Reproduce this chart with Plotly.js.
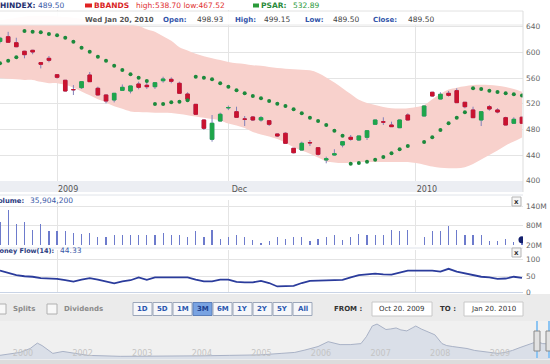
<!DOCTYPE html>
<html><head><meta charset="utf-8">
<script src="https://cdn.plot.ly/plotly-3.0.1.min.js"></script>
<style>html,body{margin:0;padding:0;background:#fff;overflow:hidden}#c{width:550px;height:364px}</style>
</head><body><div id="c"></div>
<script>
// ---------- data ----------
const dates = ['2009-10-22','2009-10-23','2009-10-26','2009-10-27','2009-10-28','2009-10-29','2009-10-30',
'2009-11-02','2009-11-03','2009-11-04','2009-11-05','2009-11-06','2009-11-09','2009-11-10','2009-11-11','2009-11-12','2009-11-13',
'2009-11-16','2009-11-17','2009-11-18','2009-11-19','2009-11-20','2009-11-23','2009-11-24','2009-11-25','2009-11-26','2009-11-27','2009-11-30',
'2009-12-01','2009-12-02','2009-12-03','2009-12-04','2009-12-07','2009-12-08','2009-12-09','2009-12-10','2009-12-11',
'2009-12-14','2009-12-15','2009-12-16','2009-12-17','2009-12-18','2009-12-21','2009-12-22','2009-12-23','2009-12-24','2009-12-25',
'2009-12-28','2009-12-29','2009-12-30','2009-12-31',
'2010-01-04','2010-01-05','2010-01-06','2010-01-07','2010-01-08','2010-01-11','2010-01-12','2010-01-13','2010-01-14','2010-01-15',
'2010-01-18','2010-01-19','2010-01-20'];
const openP = [617,624.4,615,601.7,603.2,584,590.7,565.2,556.5,542,545,564.7,544,533.6,525.8,540.8,539.8,550.7,548.7,546.5,555.8,558,551.8,535.1,519,494.6,464.5,493,513.5,507.5,496.2,499.3,494.6,493.5,472.8,473.9,450.5,447.8,459.5,451.4,432.3,440,455.6,467.6,463.4,467.6,487.9,491.8,486.8,482.6,502.4,500.8,537.8,527.3,536.2,540.3,522.2,510.2,494.6,515.3,510.2,498.2,489.5,498.93];
const highP = [624,632,622.8,602.5,604,584.5,594.3,566,557,549,555,569.4,546.5,534,536.5,550,547.8,554.3,554.3,553,562,561,554.3,537.8,519.5,495,502.4,506,517,515.3,500.8,500.8,500.8,494,473.5,475.4,451,460.8,463.4,452,437.4,449,461,471.2,470,478,494.8,498.8,492,495,505,516.6,538.5,537.8,539.8,544,522.5,515.3,507.8,518,512.8,499.7,498.8,499.15];
const lowP = [614,615,608,590.7,597,575,584.5,559,539,533.5,543,554,533,520.6,522,540,536,542.4,543,543,552.7,551.8,536,526.5,503,479,460.8,492.5,510,498.5,485.2,493,492,485.2,468,458,442.6,447.5,454,439,427.1,439,452,462.3,462,463.4,487.5,486.8,484,482,494.3,500.5,531,527,531,521.3,512.8,498,485.2,509,505,486.5,489.2,489.5];
const closeP = [622,615.7,608.8,596.4,600.6,581.4,587.6,561.1,539.8,541.8,554.3,554.3,533.6,524.2,536.2,545.5,547.6,545.5,546.5,552.7,558.5,554.9,536.2,526.8,503.5,481.7,489.5,503.5,514,498.8,495.8,494.6,498.2,487.9,469.7,458.3,443.6,458.3,459,441.1,434.3,442,460.8,464.5,469.7,477.9,494.6,491.3,484.2,494.6,494.6,516.4,532,534.6,533,521.6,515.3,498.2,507.5,511.7,507,486.8,495.7,489.5];
const psar = [583,587,592.3,633.3,632.2,631.3,628.6,626.6,622.9,616.6,607.3,601,593.2,587,579.2,572.5,565.8,560.5,555.4,519.5,519.5,522.2,523.1,525.3,562,560.5,558,551.8,546.5,540.9,536.2,532,528.4,524.2,520,516.4,511.3,505,498.2,493,486.8,477.9,470.1,426.5,427.6,429.6,432.7,436.9,442.7,448.9,454.1,460.3,467.6,479,489.4,498.2,506.6,544,542.9,540.3,538.2,536.2,534.6,532.89];
const bbUpper = [650,652,654,656,657,657,657,656,655,654,652,650,649,647,646,645,643,641,636,632,625,618,608,603,598,594,591,588,585,583,582,580,579,577,575.5,574.5,573.5,573,572,568,561,553,544,535,526,521,518,515,513,512.5,513,518,527,535,542,545,547,549,549.5,549,548,546,543,538.7];
const bbLower = [560,559,558,557,557,554,552,552,549.5,545,539,533,527,522,516,512,508,507,506.5,506,506,505.5,504,502,500,498,496,494,489,486,482,476,472,469,465,459,452,447,442,436,430,428.5,427.5,428,429,429,429,429,429,429,429,425,422,420,419.5,419.5,421,426,433,440,447,455,461,467.5];
const volumeM = [92,127.6,83.4,89.8,67.2,83.4,62.8,62.8,61.8,57.4,54.2,57.4,45.6,45.6,51,51,51,51,51,51,57.4,51,51,45.6,62.8,45.6,65,38,45.6,51,45.6,34.8,27.2,32.6,43.4,38,43.4,43.4,32.6,38,45.6,51,34.8,45.6,54.2,51,51,51,67.2,61.8,65,43.4,62.8,62.8,79,65,51,51,51,32.6,32.6,38,29.4,35.9];
const moneyFlow = [67,59.6,53,49.5,48,43.7,42.6,41.5,37.3,33,39.4,43.7,39.4,33,27.7,34,37.3,45.8,38.4,45.8,45.8,46.9,48,45.8,39.4,34.1,34.1,39.4,39.4,32,30.9,30.9,35.2,28.8,18.2,19.2,20.3,28.8,35.2,36.2,37.3,38.4,38.4,45.8,53.3,55.4,57.5,55.4,54.3,60.7,67,67,67,63.9,72.4,63.9,58.6,52.2,48,45.8,41.5,42.6,48,44.33];
const xTickDates = ['2009-11-02','2009-12-01','2010-01-01'];
const xTickLabels = ['2009','Dec','2010'];
const priceTicks = [400,440,480,520,560,600,640];
const volTicks = [20,80,140];
const volTickLabels = ['20M','80M','140M'];
const mfTicks = [0,50,100];
// navigator (long-term overview)
const navYears = [2000.61,2000.95,2001.12,2001.24,2001.32,2001.50,2001.67,2001.87,2002.09,2002.63,2003.13,2003.55,2003.97,2004.47,2004.98,2005.33,2005.56,2005.73,2005.95,2006.12,2006.24,2006.32,2006.49,2006.67,2006.76,2006.86,2006.94,2007.02,2007.09,2007.17,2007.26,2007.34,2007.44,2007.53,2007.59,2007.68,2007.76,2007.83,2007.91,2008.03,2008.11,2008.21,2008.33,2008.45,2008.58,2008.73,2008.84,2008.97,2009.09,2009.21,2009.34,2009.51,2009.62,2009.72,2009.84,2010.05];
const navValues = [136,238,374,561,476,204,272,204,136,102,102,102,119,136,153,204,238,320,442,612,544,510,510,544,782,1156,1224,1122,1034,1054,1088,1020,986,1088,1156,1054,986,918,850,544,476,442,408,374,306,272,238,204,238,306,408,544,612,544,544,520];
const navTickYears = [2001,2002,2003,2004,2005,2006,2007,2008,2009];
const navTickLabels = ['2000','2002','2003','2004','2005','2006','2007','2008','2009'];
const rangeButtons = ['1D','5D','1M','3M','6M','1Y','2Y','5Y','All'];

// ---------- helpers ----------
const W=550,H=364;
const X = v=>v/W, Y = v=>1-v/H;
const FF = 'DejaVu Sans';
const d12 = dates.map(d=>d+' 12:00');
const tick12 = xTickDates.map(d=>d+' 12:00');
const bodyHi = openP.map((o,i)=>Math.max(o,closeP[i]));
const bodyLo = openP.map((o,i)=>Math.min(o,closeP[i]));
const RED='#c9132f', GREEN='#1ea64a', WICK='#8181b9';

const traces = [
 {type:'scatter',x:d12,y:bbLower,mode:'lines',line:{width:0,shape:'spline'},xaxis:'x',yaxis:'y',hoverinfo:'skip'},
 {type:'scatter',x:d12,y:bbUpper,mode:'lines',line:{width:0,shape:'spline'},fill:'tonexty',fillcolor:'#f8d1cc',xaxis:'x',yaxis:'y',hoverinfo:'skip'},
 {type:'candlestick',x:d12,open:openP,high:highP,low:lowP,close:closeP,xaxis:'x5',yaxis:'y5',whiskerwidth:0,
   increasing:{line:{color:WICK,width:1},fillcolor:GREEN},decreasing:{line:{color:WICK,width:1},fillcolor:RED}},
 {type:'candlestick',x:d12,open:openP,high:bodyHi,low:bodyLo,close:closeP,xaxis:'x5',yaxis:'y5',whiskerwidth:0,
   increasing:{line:{color:GREEN,width:1},fillcolor:GREEN},decreasing:{line:{color:RED,width:1},fillcolor:RED}},
 {type:'scatter',x:d12,y:psar,mode:'markers',marker:{color:'#1c8a3c',size:4},xaxis:'x5',yaxis:'y5'},
 {type:'bar',x:d12,y:volumeM,width:0.15*86400000,marker:{color:'#6d7bcc',line:{width:0}},xaxis:'x2',yaxis:'y2'},
 {type:'scatter',x:[d12[d12.length-1]],y:[volumeM[volumeM.length-1]],mode:'markers',marker:{color:'#14206e',size:7},xaxis:'x2',yaxis:'y2'},
 {type:'scatter',x:d12,y:moneyFlow,mode:'lines',line:{color:'#2b3c9c',width:1.8},xaxis:'x3',yaxis:'y3'},
 {type:'scatter',x:navYears,y:navValues,mode:'lines',line:{color:'#a9b2c6',width:1},fill:'tozeroy',fillcolor:'#dadfe8',xaxis:'x4',yaxis:'y4'}
];

const xBase = {type:'date',domain:[0,523/W],range:['2009-10-22 12:00','2010-01-20 15:00'],
  rangebreaks:[{bounds:['sat','mon']}],tickmode:'array',tickvals:tick12,showgrid:true,gridcolor:'#e4e4e4',
  ticks:'',zeroline:false,showline:false,fixedrange:true};
const yBase = {side:'right',showgrid:true,gridcolor:'#e4e4e4',ticks:'',zeroline:false,showline:false,
  tickfont:{family:FF,size:7.5,color:'#666'},ticklabelstandoff:2,fixedrange:true};

const shapes = [];
const ann = [];
function rect(x0,y0,x1,y1,fill,line,layer,lw){shapes.push({type:'rect',xref:'paper',yref:'paper',x0:X(x0),x1:X(x1),y0:Y(y0),y1:Y(y1),fillcolor:fill,line:{color:line||fill,width:lw===undefined?(line?1:0):lw},layer:layer||'above'});}
function hline(x0,x1,y,c){shapes.push({type:'line',xref:'paper',yref:'paper',x0:X(x0),x1:X(x1),y0:Y(y),y1:Y(y),line:{color:c,width:1},layer:'above'});}
function vline(x,y0,y1,c,w){shapes.push({type:'line',xref:'paper',yref:'paper',x0:X(x),x1:X(x),y0:Y(y0),y1:Y(y1),line:{color:c,width:w||1},layer:'above'});}
function T(x,y,text,size,color,bold,anchor){ann.push({xref:'paper',yref:'paper',x:X(x),y:Y(y),text:bold?'<b>'+text+'</b>':text,showarrow:false,xanchor:anchor||'left',yanchor:'middle',borderpad:0,font:{family:FF,size:size,color:color}});}

// background panels (below traces)
rect(0,181,523,192,'#eceef3',null,'below');
rect(0,294,550,321,'#ebebeb',null,'below');
rect(0,321,550,360,'#f0f0f0',null,'below');
rect(0,360,550,364,'#dcdcdc',null,'below');
// info row overlay
rect(0,11,523,25,'rgba(255,255,255,0.93)',null,'above');
hline(0,523,11,'#e2e2e2');
hline(0,523,25,'#e8e8e8');
vline(523,11,192,'#dddddd');
hline(0,523,195,'#e0e4ea');
hline(0,523,248,'#dfe3ea');
hline(0,523,292.5,'#c9d4e6');

// top legend row
T(-1,5.5,'HINDEX:',7.5,'#1f2f6f',true);
T(37,5.5,'489.50',7.5,'#3a5aa8',false);
rect(85,3.5,92,7.5,'#e02222');
T(93,5.5,'BBANDS',7.5,'#d91f26',true);
T(135,5.5,'high:538.70 low:467.52',7.5,'#e03030',false);
rect(253,3.5,259,7.5,'#2a9a3a');
T(260,5.5,'PSAR:',7.5,'#2a8a3a',true);
T(292,5.5,'532.89',7.5,'#2a9a3a',false);
// info row
T(84,19.5,'Wed Jan 20, 2010',7,'#555555',true);
T(162,19.5,'Open:',7,'#3355aa',true);
T(196,19.5,'498.93',7.5,'#444444',false);
T(234,19.5,'High:',7,'#3355aa',true);
T(263,19.5,'499.15',7.5,'#444444',false);
T(304,19.5,'Low:',7,'#3355aa',true);
T(332,19.5,'489.50',7.5,'#444444',false);
T(372,19.5,'Close:',7,'#3355aa',true);
T(407,19.5,'489.50',7.5,'#444444',false);

// panel titles
T(25,200.5,'Volume:',6.8,'#2a3a80',true,'right');
T(29,200.5,'35,904,200',7.5,'#3a5aa8',false);
T(55,250.5,'Money Flow(14):',6.5,'#2a3a80',true,'right');
T(59,250.5,'44.33',7.5,'#3a5aa8',false);
// close boxes
[[197,206],[248,257]].forEach(function(b){rect(512,b[0],521,b[1],'#f6f6f6','#b5b5b5','above',1);T(516.5,(b[0]+b[1])/2,'x',7,'#333',true,'center');});

// controls row
rect(-2,304,6,314,'#f8f8f8','#b0b0b0','above',1);
T(12,309,'Splits',7,'#8a8a8a',true);
rect(47,304,57,314,'#f8f8f8','#b0b0b0','above',1);
T(63,309,'Dividends',7,'#8a8a8a',true);
rangeButtons.forEach(function(t,i){
  const x0=133+i*20;
  const on = t==='3M';
  rect(x0,302.5,x0+19,315.5,on?'#79a3e2':'#f6f7fa',on?'#5b7fba':'#9ca7ba','above',1);
  T(x0+9.5,309,t,7,on?'#1d3f8f':'#2c58b0',true,'center');
});
T(333,309,'FROM :',7,'#333333',true);
rect(372,302,432,316,'#ffffff','#c8c8c8','above',1);
T(402,309,'Oct 20. 2009',7,'#333333',false,'center');
T(439,309,'TO :',7,'#333333',true);
rect(464,302,523,316,'#ffffff','#c8c8c8','above',1);
T(493.5,309,'Jan 20. 2010',7,'#333333',false,'center');
// navigator handles
vline(537,321,358,'#8cc4f2',2);
vline(549,321,358,'#8cc4f2',2);
rect(534,331,540,351,'#e2e2e2','#8a8a8a','above',1);
rect(546,331,552,351,'#e2e2e2','#8a8a8a','above',1);

const layout = {
  width:W,height:H,margin:{l:0,r:0,t:0,b:0},paper_bgcolor:'#ffffff',plot_bgcolor:'rgba(0,0,0,0)',
  showlegend:false,hovermode:false,dragmode:false,boxgap:0.38,bargap:0,
  xaxis:Object.assign({},xBase,{anchor:'y',ticktext:xTickLabels,showticklabels:true,ticklabelshift:11,ticklabelstandoff:2,
     tickfont:{family:FF,size:8,color:'#555'},rangeslider:{visible:false}}),
  yaxis:Object.assign({},yBase,{domain:[Y(180.7),Y(10)],range:[400,666],anchor:'x',tickvals:priceTicks}),
  xaxis5:Object.assign({},xBase,{overlaying:'x',anchor:'y5',showgrid:false,showticklabels:false,rangeslider:{visible:false}}),
  yaxis5:{overlaying:'y',side:'right',anchor:'x5',range:[400,666],showgrid:false,showticklabels:false,zeroline:false,ticks:'',fixedrange:true},
  xaxis2:Object.assign({},xBase,{anchor:'y2',showticklabels:false}),
  yaxis2:Object.assign({},yBase,{domain:[Y(245),Y(200)],range:[20,158.5],anchor:'x2',tickvals:volTicks,ticktext:volTickLabels}),
  xaxis3:Object.assign({},xBase,{anchor:'y3',showticklabels:false}),
  yaxis3:Object.assign({},yBase,{domain:[Y(292.4),Y(250)],range:[0,130],anchor:'x3',tickvals:mfTicks}),
  xaxis4:{domain:[0,1],range:[2000.614,2009.842],anchor:'y4',tickmode:'array',tickvals:navTickYears,ticktext:navTickLabels,
     ticklabelposition:'inside',ticks:'',showgrid:false,zeroline:false,showline:false,
     tickfont:{family:FF,size:8,color:'#c4c4c4'},fixedrange:true},
  yaxis4:{domain:[Y(361),Y(321)],range:[-60,1330],visible:false,fixedrange:true},
  shapes:shapes,annotations:ann
};
Plotly.newPlot('c',traces,layout,{staticPlot:true,displayModeBar:false});
</script></body></html>
